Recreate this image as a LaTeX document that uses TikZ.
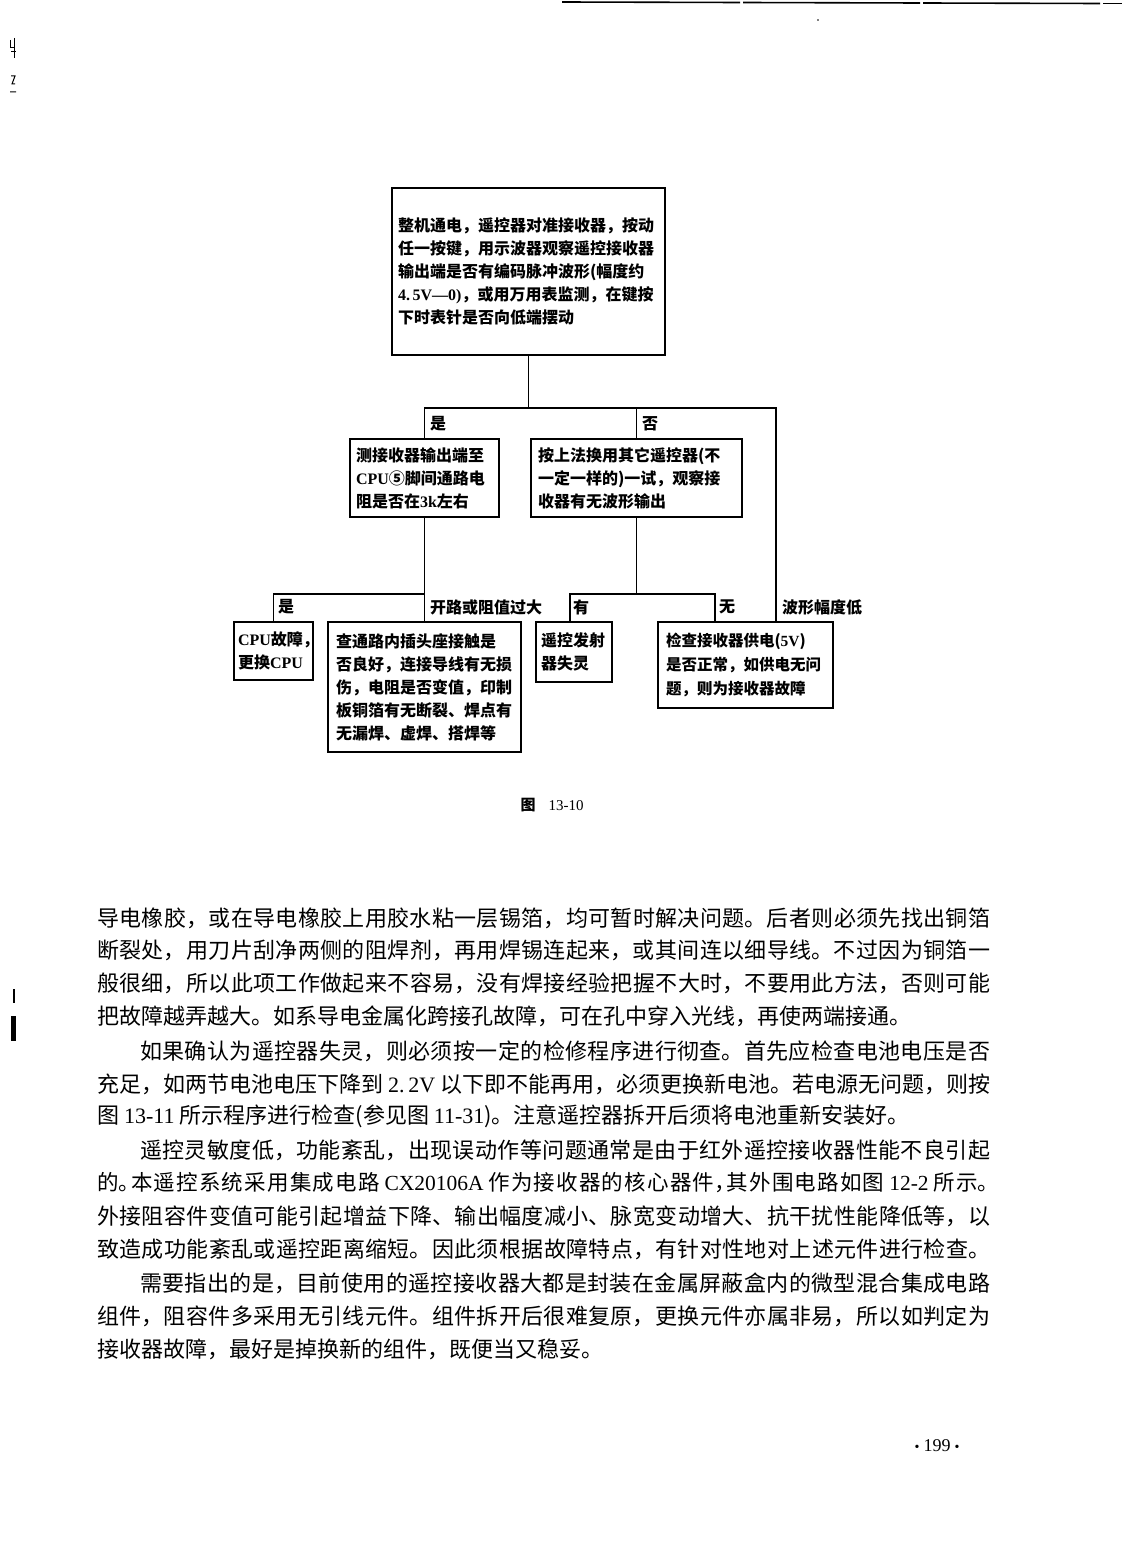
\documentclass[tikz,border=0pt]{standalone}
\usepackage{fontspec}
\setmainfont{Liberation Serif}
\newfontfamily\cjk{Noto Sans CJK SC}
\tikzset{
  fbox/.style={draw, line width=1.3pt, inner ysep=0pt, align=left, font=\cjk\bfseries\fontsize{16}{23}\selectfont},
  conn/.style={line width=1.3pt},
  lbl/.style={anchor=west, inner sep=0pt, font=\cjk\bfseries\fontsize{16}{20}\selectfont},
  body/.style={anchor=west, inner sep=0pt, font=\cjk\fontsize{22}{22}\selectfont},
  rule/.style={line width=1.6pt},
}
\newcommand\bodyjl[4]{\node[body, text width=#3, align=justify] (#1) at #2 {\XeTeXlinebreaklocale "zh"\XeTeXlinebreakskip=0pt plus 1fil\parfillskip=0pt\relax #4\par};}
\newcommand\bodyll[3]{\node[body] (#1) at #2 {#3};}
\newcommand\hw{\kern-9pt\relax}
\begin{document}
\begin{tikzpicture}[x=1pt,y=-1pt]
\useasboundingbox (0,0) rectangle (1122,1568);
% top rule (scan)
\draw[rule] (562,2) -- (740,2.5);
\draw[rule] (743,2.5) -- (920,3);
\draw[rule] (923,3) -- (1100,3.5);
\draw[rule] (1103,3.5) -- (1122,3.5);
\fill (818,20) circle (0.9);
% scan marks at left edge
\draw[line width=1pt] (10,40) -- (10,48) -- (15,48) (14,38) -- (14,58) (11,52) -- (16,52);
\draw[line width=1pt] (11,76) -- (15,76) -- (12,84) -- (15,84) (10,92) -- (16,92);
\fill (13,989) rectangle (15,1003);
\fill (11,1016) rectangle (16,1041);

% ---- flowchart ----
\node[fbox, inner xsep=6pt, text width=261pt, minimum height=167pt] (top) at (528.5,271.5) {整机通电，遥控器对准接收器，按动\\任一按键，用示波器观察遥控接收器\\输出端是否有编码脉冲波形(幅度约\\{\rmfamily 4.\,5V—0)}，或用万用表监测，在键按\\下时表针是否向低端摆动};
\node[fbox, inner xsep=6pt, text width=137pt, minimum height=78pt] (b1) at (424.5,478) {测接收器输出端至\\{\rmfamily CPU}⑤脚间通路电\\阻是否在{\rmfamily 3k}左右};
\node[fbox, inner xsep=7pt, text width=197pt, minimum height=78pt] (b2) at (636.5,478) {按上法换用其它遥控器(不\\一定一样的)一试，观察接\\收器有无波形输出};
\node[fbox, inner xsep=4pt, text width=71pt, minimum height=58pt] (cpu) at (273.5,651) {{\rmfamily CPU}故障，\\更换{\rmfamily CPU}};
\node[fbox, inner xsep=8pt, text width=177pt, minimum height=130pt] (b3) at (424.5,687) {查通路内插头座接触是\\否良好，连接导线有无损\\伤，电阻是否变值，印制\\板铜箔有无断裂、焊点有\\无漏焊、虚焊、搭焊等};
\node[fbox, inner xsep=5pt, text width=66pt, minimum height=60pt] (rc) at (574,652) {遥控发射\\器失灵};
\node[fbox, font=\cjk\bfseries\fontsize{15.5}{24}\selectfont, inner xsep=8pt, text width=159pt, minimum height=86pt] (chk) at (745.5,665) {检查接收器供电({\rmfamily 5V})\\是否正常，如供电无问\\题，则为接收器故障};

\coordinate (bar) at (528.5,408);
\coordinate (barR) at (776,408);
\draw[conn] (top.south) -- (bar);
\draw[conn] (b1.north) -- (b1.north |- bar) -- (barR) -- (barR |- chk.north);
\draw[conn] (b2.north) -- (b2.north |- bar);
\coordinate (j2) at (424.5,594);
\draw[conn] (b1.south) -- (b3.north);
\draw[conn] (j2) -- (cpu.north |- j2) -- (cpu.north);
\coordinate (j3L) at (570,594);
\coordinate (j3R) at (715,594);
\draw[conn] (b2.south) -- (b2.south |- j3L);
\draw[conn] (j3L |- rc.north) -- (j3L) -- (j3R) -- (j3R |- chk.north);

\node[lbl] (yes1) at (430,424) {是};
\node[lbl] (no1) at (642,424) {否};
\node[lbl] (yes2) at (278,607) {是};
\node[lbl] (open) at (430,607) {开路或阻值过大};
\node[lbl] (have) at (573,607) {有};
\node[lbl] (none) at (719,607) {无};
\node[lbl] (low) at (782,607) {波形幅度低};

\node (cap) at (552,805) {\cjk\bfseries\fontsize{15}{15}\selectfont 图\hspace{13pt}\mdseries\rmfamily 13-10};

% ---- body text ----
\bodyjl{l1}{(97,918)}{893pt}{导电橡胶，或在导电橡胶上用胶水粘一层锡箔，均可暂时解决问题。后者则必须先找出铜箔}
\bodyjl{l2}{(97,950)}{893pt}{断裂处，用刀片刮净两侧的阻焊剂，再用焊锡连起来，或其间连以细导线。不过因为铜箔一}
\bodyjl{l3}{(97,983)}{893pt}{般很细，所以此项工作做起来不容易，没有焊接经验把握不大时，不要用此方法，否则可能}
\bodyll{l4}{(97,1016)}{把故障越弄越大。如系导电金属化跨接孔故障，可在孔中穿入光线，再使两端接通。}
\bodyjl{l5}{(140,1051)}{850pt}{如果确认为遥控器失灵，则必须按一定的检修程序进行彻查。首先应检查电池电压是否}
\bodyjl{l6}{(97,1084)}{893pt}{充足，如两节电池电压下降到 {\rmfamily 2.\,2V} 以下即不能再用，必须更换新电池。若电源无问题，则按}
\bodyll{l7}{(97,1116)}{图 {\rmfamily 13-11} 所示程序进行检查(参见图 {\rmfamily 11-31})。注意遥控器拆开后须将电池重新安装好。}
\bodyjl{l8}{(140,1150)}{850pt}{遥控灵敏度低，功能紊乱，出现误动作等问题通常是由于红外遥控接收器性能不良引起}
\bodyjl{l9}{(97,1183)}{893pt}{\fontsize{21.5}{22}\selectfont 的。\hw 本遥控系统采用集成电路 {\rmfamily CX20106A} 作为接收器的核心器件，\hw 其外围电路如图 {\rmfamily 12-2} 所示。\hw}
\bodyjl{l10}{(97,1216)}{893pt}{外接阻容件变值可能引起增益下降、输出幅度减小、脉宽变动增大、抗干扰性能降低等，以}
\bodyjl{l11}{(97,1249)}{893pt}{致造成功能紊乱或遥控距离缩短。因此须根据故障特点，有针对性地对上述元件进行检查。}
\bodyjl{l12}{(140,1283)}{850pt}{需要指出的是，目前使用的遥控接收器大都是封装在金属屏蔽盒内的微型混合集成电路}
\bodyjl{l13}{(97,1316)}{893pt}{组件，阻容件多采用无引线元件。组件拆开后很难复原，更换元件亦属非易，所以如判定为}
\bodyll{l14}{(97,1349)}{接收器故障，最好是掉换新的组件，既便当又稳妥。}

\node (pg) at (937,1446) {\fontsize{18}{18}\selectfont{\fontsize{14}{14}\selectfont•}\hspace{4pt}199\hspace{4pt}{\fontsize{14}{14}\selectfont•}};
\end{tikzpicture}
\end{document}
